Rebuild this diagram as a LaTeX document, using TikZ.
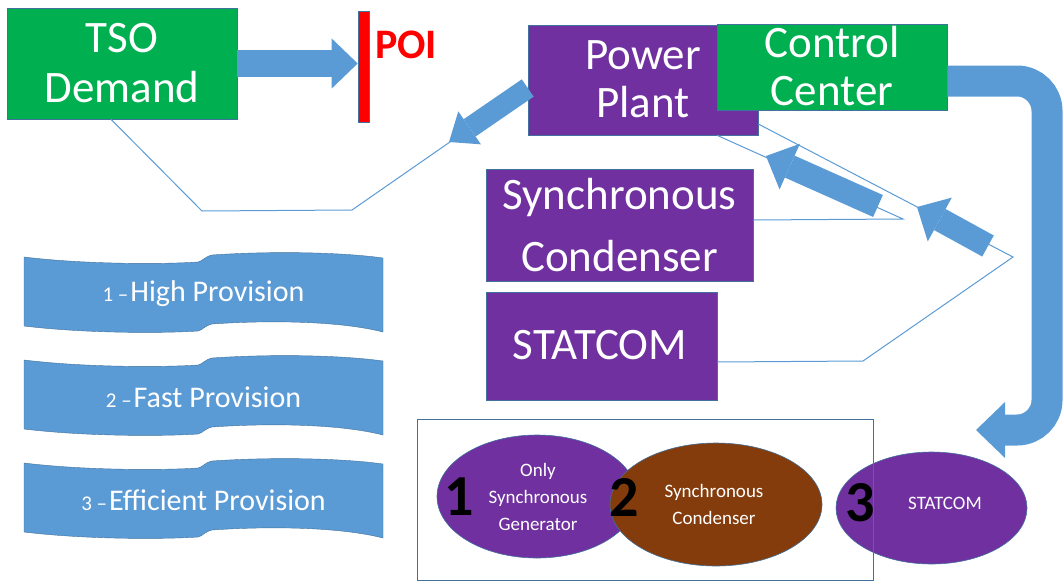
\documentclass[tikz,border=0pt]{standalone}
\usepackage{fontspec}
\setmainfont{Carlito}
\usetikzlibrary{shapes.geometric,arrows.meta,calc}
\definecolor{offgreen}{HTML}{00B050}
\definecolor{offpurple}{HTML}{7030A0}
\definecolor{offblue}{HTML}{5B9BD5}
\definecolor{offbrown}{HTML}{843C0C}
\definecolor{offedge}{HTML}{41719C}
\begin{document}
\begin{tikzpicture}[x=1pt, y=-1pt,
    box/.style={draw=offedge, line width=0.6pt, inner sep=0pt},
    boxtext/.style={text=white, align=center, inner sep=0pt, font=\fontsize{45}{48}\selectfont},
    thinline/.style={draw=offblue, line width=1pt},
    blockarrow/.style={draw=offblue, line width=24pt, -{Triangle[length=26pt,width=50pt,line width=0pt]}},
    disc/.style={ellipse, draw=offedge, line width=0.6pt, inner sep=0pt},
    disctext/.style={text=white, align=center, inner sep=0pt, font=\fontsize{19}{27}\selectfont},
    bignum/.style={inner sep=0pt, font=\fontsize{58}{58}\selectfont\bfseries}]

  \useasboundingbox (0,0) rectangle (1064,586);

  \node[box, fill=offgreen, minimum width=230pt, minimum height=111pt] (tso) at (122,63.5) {};
  \node[boxtext, font=\fontsize{45}{50}\selectfont] (tsotext) at (tso) {TSO\\Demand};
  \node[box, fill=red, minimum width=11pt, minimum height=111pt] (poi) at (363.5,66.5) {};
  \node[anchor=west, inner sep=0pt, text=red, font=\fontsize{42}{42}\selectfont\bfseries] (poitext) at (375,45) {POI};

  \node[box, fill=offpurple, minimum width=230pt, minimum height=110pt] (pp) at (643,80) {};
  \node[boxtext] (pptext) at (643,79) {Power\\Plant};
  \node[box, fill=offgreen, minimum width=230pt, minimum height=86pt] (cc) at (832,67) {};
  \node[boxtext] (cctext) at (832,66) {Control\\Center};
  \node[box, fill=offpurple, minimum width=267pt, minimum height=112pt] (sync) at (619.5,225) {};
  \node[boxtext, font=\fontsize{45}{62}\selectfont] (synctext) at (sync) {Synchronous\\Condenser};
  \node[box, fill=offpurple, minimum width=231pt, minimum height=108pt] (stat) at (601.5,346) {};
  \node[boxtext] (stattext) at (600,345) {STATCOM};

  \foreach \y/\n/\txt in {257/1/High Provision,360/2/Fast Provision,463/3/Efficient Provision}{
    \fill[offblue, draw=offedge, line width=0.4pt] (24,\y) .. controls (90,\y+8) and (170,\y+7) .. (198,\y+5)
      .. controls (203,\y+4) and (204,\y) .. (212,\y-2) .. controls (270,\y-6) and (340,\y-5) .. (383,\y+1)
      -- (383,\y+75) .. controls (340,\y+64) and (270,\y+63) .. (212,\y+67)
      .. controls (204,\y+69) and (203,\y+73) .. (198,\y+74) .. controls (170,\y+76) and (90,\y+77) .. (24,\y+69) -- cycle;
    \node[text=white, inner sep=0pt, font=\fontsize{30}{30}\selectfont] (prov\n) at (203.5,\y+37)
      {{\fontsize{21}{21}\selectfont\n~–}\hspace{2pt}\txt};
  }

  \draw[thinline] ($(tso.south)+(-11,0)$) -- (202,211) -- (352,210) -- ($(pp.west)+(0,8)$);
  \draw[thinline] ($(pp.east)+(0,44)$) -- (1013,257) -- (863,361) -- ($(stat.east)+(0,16)$);
  \draw[thinline] ($(pp.south)+(74,0)$) -- (903,219) -- ($(sync.east)+(0,-5)$);

  \coordinate (pptip) at (449,142);
  \coordinate (arrowatail) at (878,206);
  \coordinate (arrowatip) at (766,156);
  \coordinate (arrowbtail) at (988,246);
  \coordinate (arrowbtip) at (917,207);
  \coordinate (stattip) at (976,430);

  \draw[blockarrow, line width=26pt] (tso.east) -- (tso.east -| poi.west);
  \draw[blockarrow, line width=21pt, -{Triangle[length=25pt,width=40pt,line width=0pt]}] ($(pp.west)+(0,8)$) -- (pptip);
  \draw[blockarrow] (arrowatail) -- (arrowatip);
  \draw[blockarrow] (arrowbtail) -- (arrowbtip);
  \draw[blockarrow, line width=31pt, rounded corners=30pt, -{Triangle[length=29pt,width=56pt,line width=0pt]}]
    ($(cc.east)+(0,14)$) -| (1047,430) -- (stattip);

  \node[disc, fill=offpurple, minimum width=200pt, minimum height=123pt] (gen) at (537,496.5) {};
  \node[disc, fill=offpurple, minimum width=191pt, minimum height=112pt] (statdisc) at (931.5,508) {};
  \node[disc, fill=offbrown, minimum width=212pt, minimum height=123pt] (cond) at (716,504.5) {};
  \node[draw=offedge, line width=0.8pt, inner sep=0pt, minimum width=456pt, minimum height=161pt] (group) at (645,499.5) {};

  \node[disctext] (gentext) at (538,497) {Only\\Synchronous\\Generator};
  \node[disctext] (condtext) at (714,504) {Synchronous\\Condenser};
  \node[disctext] (statdisctext) at (945,503) {STATCOM};
  \node[bignum] (one) at (459,497) {1};
  \node[bignum] (two) at (624,497) {2};
  \node[bignum] (three) at (860,503) {3};
\end{tikzpicture}
\end{document}
